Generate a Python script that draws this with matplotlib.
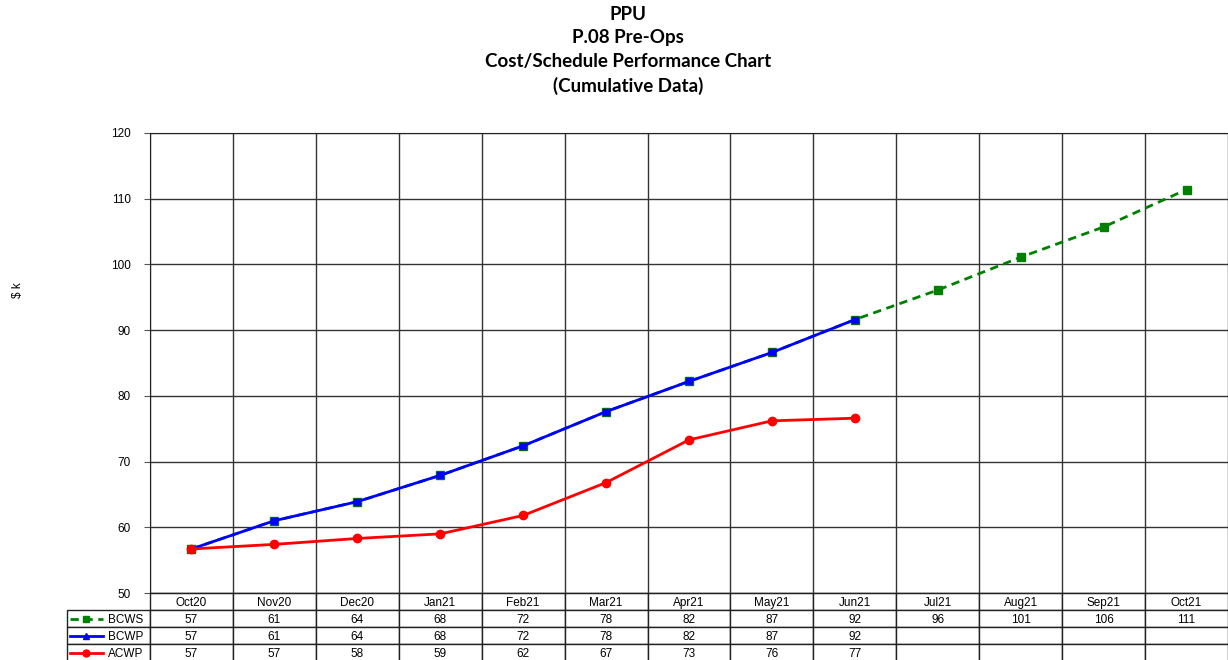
import matplotlib.pyplot as plt
from matplotlib.table import Table
import numpy as np

months = ["Oct20", "Nov20", "Dec20", "Jan21", "Feb21", "Mar21", "Apr21",
          "May21", "Jun21", "Jul21", "Aug21", "Sep21", "Oct21"]
bcws = [56.7, 61.0, 63.9, 67.9, 72.4, 77.6, 82.2, 86.6, 91.6, 96.1, 101.1, 105.7, 111.4]
bcwp = [56.7, 61.0, 63.9, 67.9, 72.4, 77.6, 82.2, 86.6, 91.6]
acwp = [56.7, 57.4, 58.3, 59.0, 61.8, 66.8, 73.3, 76.2, 76.6]

series = [("BCWS", bcws, "#008000", "--", "s"),
          ("BCWP", bcwp, "#0000ff", "-", "^"),
          ("ACWP", acwp, "#ff0000", "-", "o")]

plt.rcParams['font.family'] = ['Liberation Sans', 'DejaVu Sans']

W, H = 1228, 660
fig = plt.figure(figsize=(W / 100, H / 100), dpi=100)
ax = fig.add_axes([150 / W, 1 - 593 / H, (W - 150) / W, (593 - 133) / H])

n = len(months)
x = np.arange(n) + 0.5

# plot lines
ax.plot(x[:len(bcws)], bcws, color="#008000", ls="--", lw=2, marker="s", ms=6, zorder=3,
        dashes=(3, 2))
ax.plot(x[:len(bcwp)], bcwp, color="#0000ff", ls="-", lw=2, marker="s", ms=4, zorder=4)
ax.plot(x[:len(acwp)], acwp, color="#ff0000", ls="-", lw=2, marker="o", ms=6, zorder=5)

ax.set_xlim(0, n)
ax.set_ylim(50, 120)
ax.set_yticks(np.arange(50, 121, 10))
ax.set_xticks(np.arange(0, n + 1))
ax.tick_params(axis='x', length=0, labelbottom=False)
ax.tick_params(axis='y', labelsize=8.5, length=4, width=0.8, color='#555555', pad=10)
ax.grid(True, color='#333333', lw=1)
for s in ax.spines.values():
    s.set_color('#222222')
ax.spines['right'].set_visible(False)
fig.text(18 / W, 1 - 290 / H, "$ k", rotation=90, fontsize=8.5, ha='center', va='center')

# data table below the axes
tbl = Table(ax, bbox=[-1 / n, -(68 / 460), (n + 1) / n, 68 / 460])
for c in range(n + 1):
    cell = tbl.add_cell(0, c, width=1, height=1,
                        text=months[c - 1] if c > 0 else "", loc='center')
    if c == 0:
        cell.visible_edges = ''
for r, (name, vals, col, ls, mk) in enumerate(series, start=1):
    tbl.add_cell(r, 0, width=1, height=1, text=name, loc='right')
    for c in range(1, n + 1):
        txt = f"{vals[c - 1]:.0f}" if c - 1 < len(vals) else ""
        tbl.add_cell(r, c, width=1, height=1, text=txt, loc='center')
tbl.auto_set_font_size(False)
tbl.set_fontsize(8.5)
for cell in tbl.get_celld().values():
    cell.set_edgecolor('#222222')
    cell.set_linewidth(1)
    cell.PAD = 0.08
    cell.get_text().set_va('center_baseline')
ax.add_table(tbl)

# legend samples inside the row label cells
for r, (name, vals, col, ls, mk) in enumerate(series, start=1):
    yc = -(17 * r + 8.5) / 460
    x0, x1 = -1 / n + 0.003, -1 / n + 0.033
    ax.plot([x0, x1], [yc, yc], color=col, ls=ls, lw=2, transform=ax.transAxes,
            clip_on=False, dashes=(3, 2) if ls == "--" else (None, None))
    ax.plot([(x0 + x1) / 2], [yc], color=col, marker=mk, ms=5 if mk != "^" else 4,
            transform=ax.transAxes, clip_on=False)

titles = ["PPU", "P.08 Pre-Ops", "Cost/Schedule Performance Chart", "(Cumulative Data)"]
for i, t in enumerate(titles):
    fig.text(628 / W, 1 - (14 + 24 * i) / H, t, ha='center', va='center',
             fontsize=13.5, fontweight='bold', family=['Lato', 'DejaVu Sans'])

fig.savefig("out.png", dpi=100)
